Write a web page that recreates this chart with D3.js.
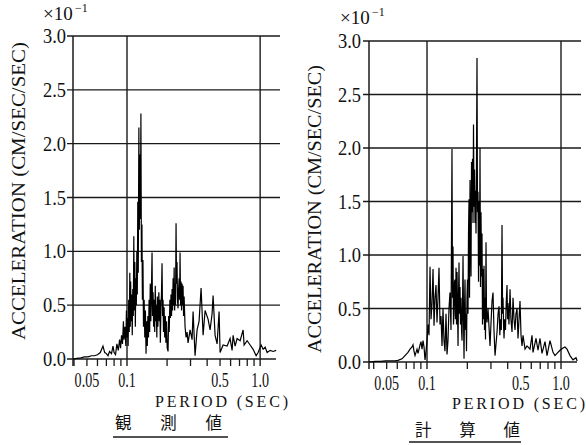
<!DOCTYPE html>
<html>
<head>
<meta charset="utf-8">
<script src="https://cdnjs.cloudflare.com/ajax/libs/d3/7.8.5/d3.min.js"></script>
<style>
  body { margin: 0; background: #fff; }
  svg { display: block; }
  .num { font-family: "Liberation Serif", "DejaVu Serif", serif; fill: #111; }
  .jp { font-family: "Noto Sans CJK JP", sans-serif; fill: #111; }
</style>
</head>
<body>
<svg id="chart" width="586" height="445"></svg>
<script>
// observed spectrum (period in sec, acceleration x 10^-1)
let obsPeriod = [0.0393,0.042,0.045,0.048,0.051,0.054,0.057,0.060,0.063,0.066,
  0.068,0.070,0.072,0.074,0.0765,0.0785,0.080,0.082,0.084,0.086,
  0.088,0.0895,0.091,0.0925,0.094,0.095,0.0965,0.098,0.099,0.100,
  0.101,0.102,0.103,0.104,0.105,0.1058,0.1065,0.1075,0.1085,0.1095,
  0.1105,0.1115,0.1125,0.1135,0.1145,0.1155,0.1165,0.1175,0.1185,0.1195,
  0.1205,0.1215,0.1228,0.1238,0.1250,0.1262,0.1272,0.1283,0.1295,0.1305,
  0.1318,0.133,0.1345,0.136,0.1375,0.139,
  0.1405,0.142,0.1435,0.145,0.1465,0.148,0.1495,0.151,0.1525,0.1542,
  0.1555,0.157,0.1585,0.160,0.1615,0.163,0.1645,0.166,0.1675,0.169,
  0.1705,0.172,0.1735,0.175,0.1765,0.178,0.180,0.1815,0.1833,0.185,
  0.1865,0.188,0.190,0.192,0.194,0.196,0.198,0.2005,0.2034,0.2055,
  0.2075,0.210,0.212,0.214,0.216,0.218,0.220,0.222,0.224,0.226,
  0.228,0.2296,0.2315,0.2336,0.2355,0.2375,0.2395,0.2418,0.244,0.2465,
  0.2485,0.2503,0.2525,0.2545,0.257,0.2592,0.2615,0.2637,0.266,0.2685,
  0.273,0.2778,0.2826,0.2875,0.2977,0.3082,0.3136,0.3245,0.3360,0.3478,
  0.3601,0.373,0.386,0.4064,0.4208,0.4356,0.4432,0.4588,0.475,0.4917,
  0.5003,0.527,0.5648,0.5948,0.6158,0.6266,0.6486,0.6716,0.7074,0.7451,
  0.7581,0.7985,0.8411,0.8859,0.9331,0.966,1.0175,1.0534,1.0905,1.1289,
  1.189,1.2525,1.319];
let obsAccel = [0,0.005,0.01,0.02,0.02,0.03,0.03,0.04,0.06,0.12,
  0.06,0.05,0.03,0.07,0.05,0.12,0.06,0.04,0.14,0.08,
  0.18,0.10,0.22,0.14,0.35,0.18,0.30,0.12,0.45,0.20,
  0.38,0.12,0.55,0.25,0.80,0.30,0.72,0.35,0.60,0.22,
  0.65,0.40,1.14,0.45,0.90,0.30,0.75,0.50,1.00,0.60,
  1.46,0.80,2.15,1.20,1.90,1.30,2.28,0.90,1.25,0.55,
  0.92,0.30,0.55,0.20,0.45,0.05,
  0.35,0.12,0.40,0.20,0.55,0.25,0.70,0.35,0.60,0.99,
  0.40,0.62,0.30,0.55,0.25,0.68,0.35,0.50,0.20,0.58,
  0.30,0.45,0.62,0.35,0.55,0.15,0.50,0.60,0.89,0.40,
  0.55,0.25,0.48,0.20,0.40,0.15,0.35,0.10,0.07,0.40,
  0.25,0.55,0.38,0.60,0.40,0.65,0.45,0.75,0.50,0.85,
  0.45,0.70,0.50,1.26,0.70,0.90,0.55,0.47,0.65,0.75,
  0.55,0.99,0.50,0.72,0.45,0.70,0.50,0.68,0.40,0.58,
  0.30,0.20,0.25,0.15,0.27,0.18,0.44,0.03,0.27,0.35,
  0.66,0.22,0.45,0.37,0.27,0.42,0.59,0.22,0.14,0.44,
  0.06,0.13,0.12,0.19,0.08,0.22,0.12,0.19,0.17,0.27,
  0.13,0.17,0.13,0.09,0.03,0.06,0.13,0.09,0.11,0.06,
  0.08,0.07,0.08];

// calculated spectrum
let calcPeriod = [0.0369,0.041,0.045,0.049,0.053,0.0577,0.0607,0.0651,0.0685,0.0721,
  0.0747,0.0773,0.0786,0.080,0.0814,0.0842,0.0857,0.0887,0.0902,0.0918,
  0.0934,0.095,0.0966,0.0983,0.1,0.1017,0.1035,0.1053,0.1071,0.1090,
  0.1109,0.1128,0.1147,0.1167,0.1187,0.1208,0.1229,0.1250,0.1272,0.1294,
  0.1316,0.1339,0.1362,0.1386,0.1410,0.1434,0.1459,0.1484,0.1510,0.1536,
  0.1550,0.1563,0.1576,0.1590,0.1604,0.1618,0.1632,0.1646,0.166,0.1675,
  0.169,0.1704,0.1718,0.1733,0.1748,0.1763,0.1778,0.1794,0.1810,0.1825,
  0.1841,0.1857,0.1873,0.1889,0.1905,0.1921,0.1937,0.1954,0.1971,0.1988,
  0.2005,0.2023,0.2040,0.2058,0.2076,0.2094,0.2112,0.2130,0.2148,0.2167,
  0.2185,0.2204,0.2223,0.2242,0.2262,0.2281,0.2301,0.2321,0.2341,0.2361,
  0.2381,0.2402,0.2423,0.2444,0.2465,0.2486,0.2507,0.2529,0.2551,0.2573,
  0.2595,0.2618,0.2640,0.2663,0.2686,0.2709,0.2732,0.2756,0.2780,0.2804,
  0.2853,0.2953,0.300,0.3056,0.3109,0.3160,0.3218,0.3331,0.339,0.3447,
  0.3495,0.3540,0.3585,0.3629,0.3665,0.3692,0.3725,0.3756,0.380,0.3850,
  0.390,0.3954,0.399,0.4023,0.409,0.4164,0.423,0.4309,0.4384,0.446,
  0.4537,0.461,0.4696,0.4777,0.486,0.4943,0.503,0.5117,0.5205,0.5387,
  0.5576,0.5871,0.6076,0.6180,0.6507,0.6735,0.6970,0.7214,0.7596,0.7862,
  0.8278,0.8716,0.9021,0.9336,0.9829,1.0349,1.07,1.1087,1.1673,1.2291,
  1.2941,1.32];
let calcAccel = [0,0.005,0.005,0.01,0.01,0.01,0.015,0.03,0.06,0.09,
  0.12,0.14,0.16,0.10,0.06,0.12,0.08,0.16,0.19,0.12,
  0.20,0.14,0.02,0.10,0.20,0.35,0.25,0.89,0.40,0.55,
  0.87,0.34,0.60,0.72,0.37,0.60,0.88,0.35,0.43,0.15,
  0.50,0.20,0.10,0.45,0.07,0.20,0.50,0.65,0.30,1.99,
  0.60,1.08,0.35,0.45,0.75,0.77,0.40,0.88,0.35,0.84,
  0.50,0.15,0.60,0.93,0.45,0.70,0.35,0.60,0.30,0.20,
  0.55,0.99,0.40,0.03,0.50,0.77,0.30,0.45,0.10,0.60,
  0.77,0.45,1.20,1.52,0.60,1.70,1.20,0.80,1.87,1.40,
  1.90,1.30,2.22,1.45,1.80,1.30,1.60,1.20,1.90,2.84,
  1.40,1.59,0.75,1.50,0.90,2.0,0.70,1.40,0.80,1.20,
  0.35,0.87,0.40,0.90,0.30,0.60,0.21,1.12,0.45,0.37,
  0.50,0.15,0.35,0.57,0.65,0.30,0.06,0.28,0.45,0.52,
  0.25,0.40,0.30,1.28,0.45,0.60,0.35,0.22,0.40,0.30,
  0.55,0.72,0.40,0.55,0.35,0.68,0.40,0.28,0.60,0.40,
  0.30,0.45,0.50,0.22,0.40,0.57,0.25,0.15,0.25,0.12,
  0.15,0.12,0.25,0.09,0.22,0.11,0.22,0.08,0.19,0.06,
  0.20,0.09,0.06,0.08,0.11,0.13,0.14,0.12,0.06,0.02,
  0.04,0.01];

let yTicks = [0, 0.5, 1.0, 1.5, 2.0, 2.5, 3.0];
let xLabelTicks = [0.05, 0.1, 0.5, 1.0];
let xLabelText = ['0.05', '0.1', '0.5', '1.0'];
let xMinorTicks = [0.04, 0.05, 0.06, 0.07, 0.08, 0.09, 0.2, 0.3, 0.4, 0.5, 0.6, 0.7, 0.8, 0.9];
let xGrid = [0.1, 1.0];

let svg = d3.select('#chart');

let panels = [
  { periods: obsPeriod, accel: obsAccel, xDomain: [0.0393, 1.41], xRange: [73, 280], yRange: [359, 36],
    yLabelX: 66, xLabelY: 387, titleX: 25, titleY: 191, titleLen: 298,
    multX: 43, multY: 20, periodX: [155, 288], periodY: 407,
    jp: '観 測 値', jpX: [115, 222], jpY: 429, lineX: [113, 228], lineY: 437 },
  { periods: calcPeriod, accel: calcAccel, xDomain: [0.0369, 1.41], xRange: [369, 581], yRange: [362, 41],
    yLabelX: 361, xLabelY: 390, titleX: 321, titleY: 209, titleLen: 288,
    multX: 340, multY: 24, periodX: [452, 585], periodY: 409,
    jp: '計 算 値', jpX: [415, 520], jpY: 436, lineX: [409, 521], lineY: 442 }
];

let drawPanel = (p) => {
  let x = d3.scaleLog().domain(p.xDomain).range(p.xRange);
  let y = d3.scaleLinear().domain([0, 3]).range(p.yRange);
  let g = svg.append('g');
  let left = p.xRange[0], right = p.xRange[1];
  let bottom = y(0), top = y(3);

  // horizontal grid + y ticks
  g.selectAll('.hgrid')
    .data(yTicks)
    .enter()
    .append('line')
    .attr('x1', left - 6)
    .attr('x2', (d) => d === 0 ? right - 4 : right)
    .attr('y1', (d) => y(d))
    .attr('y2', (d) => y(d))
    .attr('stroke', '#1a1a1a')
    .attr('stroke-width', 1.4);

  // left frame
  g.append('line')
    .attr('x1', left).attr('x2', left)
    .attr('y1', top).attr('y2', bottom + 7)
    .attr('stroke', '#1a1a1a').attr('stroke-width', 1.5);

  // vertical grid
  g.selectAll('.vgrid')
    .data(xGrid)
    .enter()
    .append('line')
    .attr('x1', (d) => x(d)).attr('x2', (d) => x(d))
    .attr('y1', top).attr('y2', bottom + 7)
    .attr('stroke', '#1a1a1a').attr('stroke-width', 1.4);

  // minor ticks below axis
  g.selectAll('.minor')
    .data(xMinorTicks)
    .enter()
    .append('line')
    .attr('x1', (d) => x(d)).attr('x2', (d) => x(d))
    .attr('y1', bottom).attr('y2', bottom + 7)
    .attr('stroke', '#1a1a1a').attr('stroke-width', 1.3);

  // spectrum
  let line = d3.line()
    .x((d) => x(d[0]))
    .y((d) => y(d[1]));
  g.append('path')
    .datum(d3.zip(p.periods, p.accel))
    .attr('d', line)
    .attr('fill', 'none')
    .attr('stroke', '#000')
    .attr('stroke-width', 1.2);

  // y labels
  g.selectAll('.ylab')
    .data(yTicks)
    .enter()
    .append('text')
    .attr('class', 'num')
    .attr('transform', (d) => `translate(${p.yLabelX},${y(d) + 7}) scale(0.88,1)`)
    .attr('text-anchor', 'end')
    .attr('font-size', 21)
    .text((d) => d.toFixed(1));

  // x labels
  g.selectAll('.xlab')
    .data(xLabelTicks)
    .enter()
    .append('text')
    .attr('class', 'num')
    .attr('transform', (d) => `translate(${x(d)},${p.xLabelY}) scale(0.64,1)`)
    .attr('text-anchor', 'middle')
    .attr('font-size', 22)
    .text((d, i) => xLabelText[i]);

  // axis titles
  g.append('text')
    .attr('class', 'num')
    .attr('transform', `translate(${p.titleX},${p.titleY}) rotate(-90)`)
    .attr('text-anchor', 'middle')
    .attr('font-size', 19)
    .attr('textLength', p.titleLen)
    .attr('lengthAdjust', 'spacingAndGlyphs')
    .text('ACCELERATION (CM/SEC/SEC)');

  g.append('text')
    .attr('class', 'num')
    .attr('x', p.periodX[0])
    .attr('y', p.periodY)
    .attr('font-size', 16)
    .attr('textLength', p.periodX[1] - p.periodX[0])
    .attr('lengthAdjust', 'spacing')
    .text('PERIOD (SEC)');

  // scale factor x10^-1
  g.append('text')
    .attr('class', 'num')
    .attr('x', p.multX)
    .attr('y', p.multY)
    .attr('font-size', 19)
    .text('×10');
  g.append('text')
    .attr('class', 'num')
    .attr('x', p.multX + 32)
    .attr('y', p.multY - 8)
    .attr('font-size', 12)
    .text('−1');

  g.append('text')
    .attr('class', 'jp')
    .attr('x', p.jpX[0])
    .attr('y', p.jpY)
    .attr('font-size', 16.5)
    .attr('textLength', p.jpX[1] - p.jpX[0])
    .attr('lengthAdjust', 'spacing')
    .text(p.jp);

  g.append('line')
    .attr('x1', p.lineX[0]).attr('x2', p.lineX[1])
    .attr('y1', p.lineY).attr('y2', p.lineY)
    .attr('stroke', '#1a1a1a').attr('stroke-width', 1.5);
}

panels.forEach((p) => drawPanel(p));
</script>
</body>
</html>
